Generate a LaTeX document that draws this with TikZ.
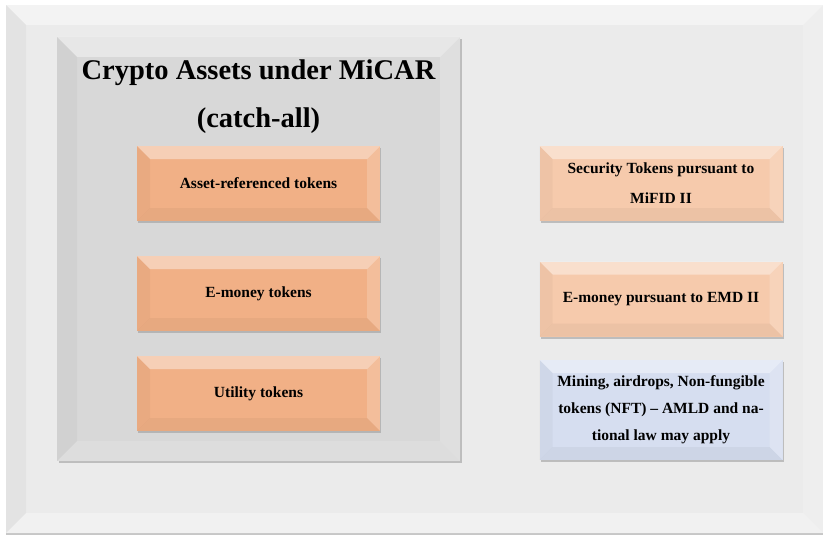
\documentclass[tikz,border=0pt]{standalone}
\usepackage{fontspec}
\setmainfont{Liberation Serif}
\usepackage{tikz}
\usetikzlibrary{shadows}

\definecolor{frameGrey}{RGB}{235,235,235}
\definecolor{panelGrey}{RGB}{216,216,216}
\definecolor{tokOrange}{RGB}{241,176,134}
\definecolor{lawPeach}{RGB}{246,202,172}
\definecolor{lawBlue}{RGB}{214,222,240}

\tikzset{
    bevelled/.style 2 args={path picture={
        \fill[white,opacity=.40] (path picture bounding box.north west) -- (path picture bounding box.north east)
            -- ([shift={(-#1,-#1)}]path picture bounding box.north east) -- ([shift={(#1,-#1)}]path picture bounding box.north west) -- cycle;
        \fill[white,opacity=.18] (path picture bounding box.north east) -- (path picture bounding box.south east)
            -- ([shift={(-#1,#1)}]path picture bounding box.south east) -- ([shift={(-#1,-#1)}]path picture bounding box.north east) -- cycle;
        \fill[black,opacity=.03] (path picture bounding box.north west) -- (path picture bounding box.south west)
            -- ([shift={(#1,#1)}]path picture bounding box.south west) -- ([shift={(#1,-#1)}]path picture bounding box.north west) -- cycle;
        \fill[#2] (path picture bounding box.south west) -- (path picture bounding box.south east)
            -- ([shift={(-#1,#1)}]path picture bounding box.south east) -- ([shift={(#1,#1)}]path picture bounding box.south west) -- cycle;
    }},
    card/.style={draw=none, inner sep=0pt, align=center, font=\fontsize{15.5}{30}\selectfont\bfseries,
        minimum width=243pt, minimum height=75pt, bevelled={13pt}{{black,opacity=.04}},
        drop shadow={shadow xshift=1pt, shadow yshift=-2pt, fill=black!40, opacity=.55}},
}

\begin{document}
\begin{tikzpicture}[x=1pt,y=-1pt]
    \useasboundingbox (0,0) rectangle (827,535);
    % frame and panel
    \node (frame) [draw=none, fill=frameGrey, bevelled={20pt}{{white,opacity=.3}}, minimum width=817pt, minimum height=528pt,
        drop shadow={shadow xshift=0pt, shadow yshift=-1.5pt, fill=black!40, opacity=.55}] at (414.5,269) {};
    \node (panel) [draw=none, fill=panelGrey, bevelled={20pt}{{white,opacity=.15}}, minimum width=403pt, minimum height=424pt,
        drop shadow={shadow xshift=1.5pt, shadow yshift=-2pt, fill=black!40, opacity=.55}] at (258.5,249) {};
    \node (title) [align=center, font=\fontsize{28.5}{48}\selectfont\bfseries] at (258.5,97)
        {Crypto Assets under MiCAR\\(catch-all)};
    % tokens under MiCAR
    \node (art)  [card, fill=tokOrange] at (258.5,183.5) {Asset-referenced tokens};
    \node (emt)  [card, fill=tokOrange] at (258.5,293.5) {E-money tokens};
    \node (util) [card, fill=tokOrange] at (258.5,393.5) {Utility tokens};
    % other regimes
    \node (mifid) [card, fill=lawPeach] at (661,183.5) {Security Tokens pursuant to\\MiFID II};
    \node (emd)   [card, fill=lawPeach] at (661,299) {E-money pursuant to EMD II};
    \node (amld)  [card, fill=lawBlue, minimum height=100pt, font=\fontsize{15.5}{27}\selectfont\bfseries] at (661,410)
        {Mining, airdrops, Non-fungible\\tokens (NFT) -- AMLD and na-\\tional law may apply};
\end{tikzpicture}
\end{document}
